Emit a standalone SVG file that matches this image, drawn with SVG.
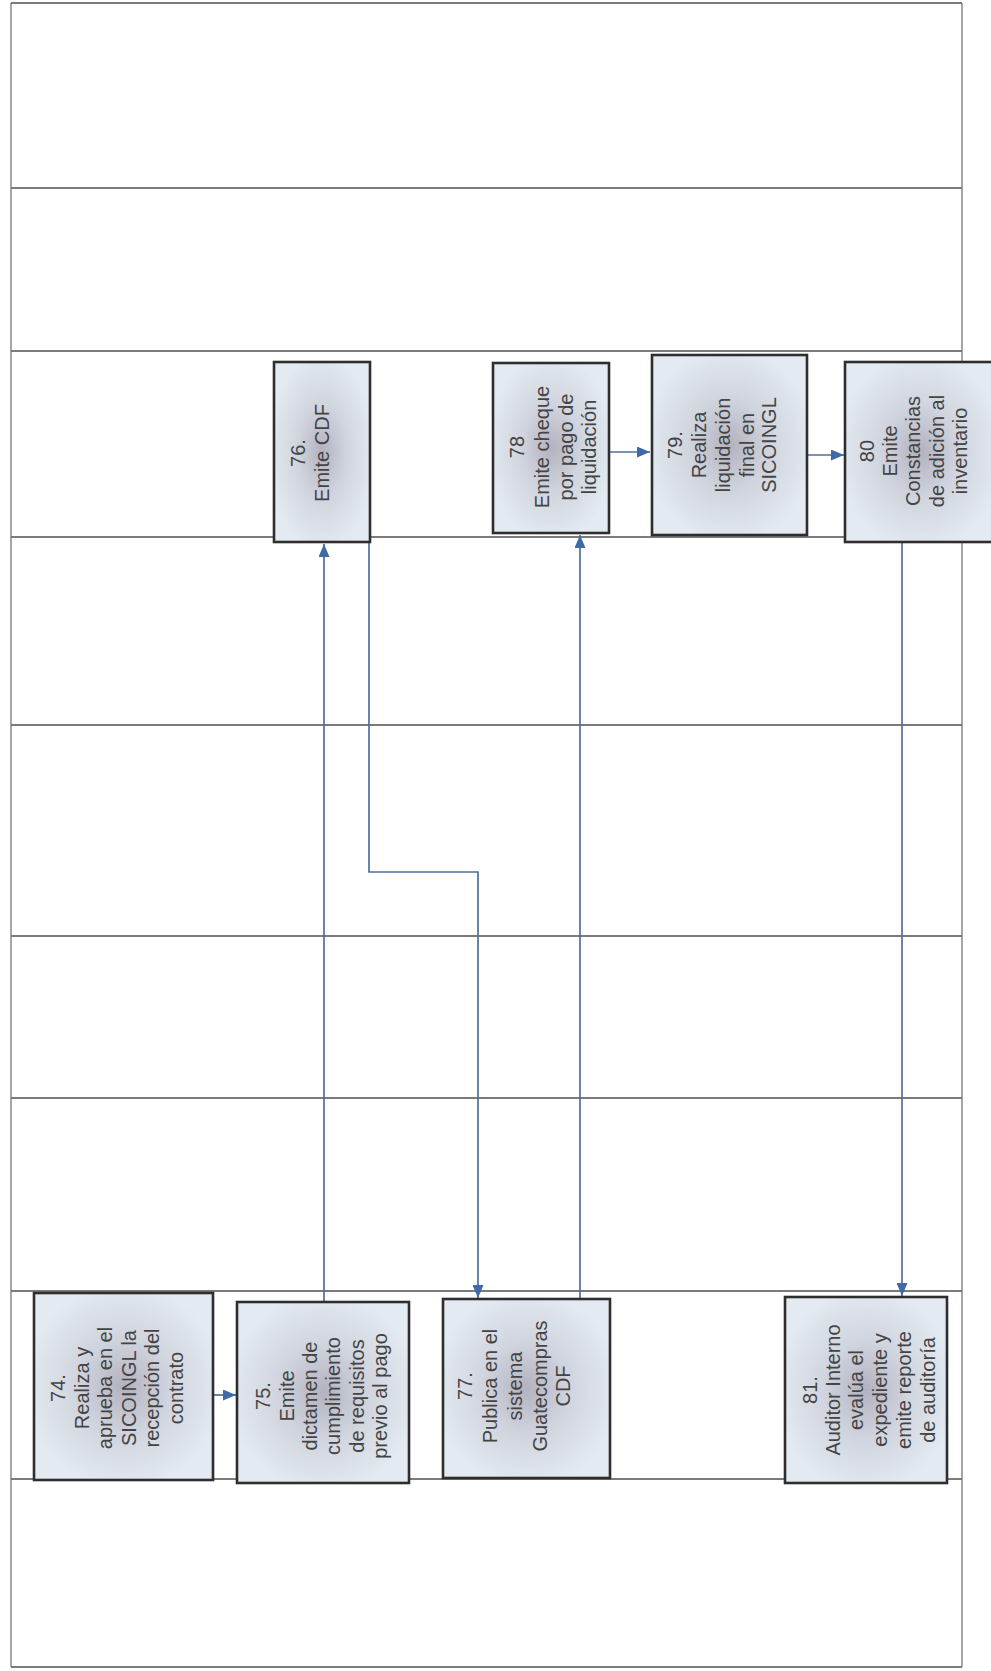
<svg xmlns="http://www.w3.org/2000/svg" width="991" height="1671" viewBox="0 0 991 1671">
<defs>
<radialGradient id="bg" cx="50%" cy="50%" r="55%">
<stop offset="0" stop-color="#b3b2bf"/>
<stop offset="0.45" stop-color="#cfd3dd"/>
<stop offset="1" stop-color="#e3eaf1"/>
</radialGradient>
<marker id="ah" viewBox="0 0 13 11" refX="13" refY="5.5" markerWidth="13" markerHeight="11" orient="auto" markerUnits="userSpaceOnUse">
<path d="M0,0 L13,5.5 L0,11 z" fill="#3f6aa8"/>
</marker>
<style>
.lane{stroke:#4f4f4f;stroke-width:1.7;fill:none}
.frame{stroke:#777;stroke-width:1.3;fill:none}
.box{fill:url(#bg);stroke:#2e2e2e;stroke-width:2.6}
.lbl{font-family:"Liberation Sans",Arial,sans-serif;font-size:20px;fill:#444;text-anchor:middle}
.con{stroke:#4f6f9e;stroke-width:1.7;fill:none;marker-end:url(#ah)}
</style>
</defs>
<rect width="991" height="1671" fill="#fff"/>
<g id="lanes">
<line class="lane" x1="11" y1="3" x2="962" y2="3"/>
<line class="lane" x1="11" y1="188" x2="962" y2="188"/>
<line class="lane" x1="11" y1="351" x2="962" y2="351"/>
<line class="lane" x1="11" y1="537" x2="962" y2="537"/>
<line class="lane" x1="11" y1="725" x2="962" y2="725"/>
<line class="lane" x1="11" y1="936" x2="962" y2="936"/>
<line class="lane" x1="11" y1="1098" x2="962" y2="1098"/>
<line class="lane" x1="11" y1="1291" x2="962" y2="1291"/>
<line class="lane" x1="11" y1="1479" x2="962" y2="1479"/>
<line class="lane" x1="11" y1="1667" x2="962" y2="1667"/>
<line class="frame" x1="11" y1="3" x2="11" y2="1667"/>
<line class="frame" x1="962" y1="3" x2="962" y2="1667"/>
</g>
<g id="connectors">
<path class="con" d="M213,1395 H236"/>
<path class="con" d="M324,1302 V544"/>
<path class="con" d="M369,542 V872 H478 V1298"/>
<path class="con" d="M580,1299 V535"/>
<path class="con" d="M609,452 H650"/>
<path class="con" d="M807,455 H844"/>
<path class="con" d="M902,542 V1296"/>
</g>
<g id="n74">
<rect class="box" x="34" y="1293" width="179" height="187"/>
<text class="lbl" transform="rotate(-90)"><tspan x="-1388" y="64.5">74.</tspan><tspan x="-1388" y="88.5">Realiza y</tspan><tspan x="-1388" y="111.5">aprueba en el</tspan><tspan x="-1388" y="135.5">SICOINGL la</tspan><tspan x="-1388" y="158.5">recepción del</tspan><tspan x="-1388" y="182.5">contrato</tspan></text>
</g>
<g id="n75">
<rect class="box" x="237" y="1302" width="172" height="181"/>
<text class="lbl" transform="rotate(-90)"><tspan x="-1396" y="269.5">75.</tspan><tspan x="-1396" y="293.5">Emite</tspan><tspan x="-1396" y="316.5">dictamen de</tspan><tspan x="-1396" y="339.5">cumplimiento</tspan><tspan x="-1396" y="363.5">de requisitos</tspan><tspan x="-1396" y="386.5">previo al pago</tspan></text>
</g>
<g id="n77">
<rect class="box" x="443" y="1299" width="167" height="179"/>
<text class="lbl" transform="rotate(-90)"><tspan x="-1386" y="471.5">77.</tspan><tspan x="-1386" y="496.5">Publica en el</tspan><tspan x="-1386" y="521.5">sistema</tspan><tspan x="-1386" y="546.5">Guatecompras</tspan><tspan x="-1386" y="569.5">CDF</tspan></text>
</g>
<g id="n81">
<rect class="box" x="785" y="1297" width="162" height="186"/>
<text class="lbl" transform="rotate(-90)"><tspan x="-1390" y="816.5">81.</tspan><tspan x="-1390" y="839.5">Auditor Interno</tspan><tspan x="-1390" y="862.5">evalúa el</tspan><tspan x="-1390" y="886.5">expediente y</tspan><tspan x="-1390" y="910.5">emite reporte</tspan><tspan x="-1390" y="934.5">de auditoría</tspan></text>
</g>
<g id="n76">
<rect class="box" x="274" y="362" width="96" height="180"/>
<text class="lbl" transform="rotate(-90)"><tspan x="-453" y="304.5">76.</tspan><tspan x="-453" y="328.5">Emite CDF</tspan></text>
</g>
<g id="n78">
<rect class="box" x="493" y="363" width="116" height="170"/>
<text class="lbl" transform="rotate(-90)"><tspan x="-447" y="523.5">78</tspan><tspan x="-447" y="548.5">Emite cheque</tspan><tspan x="-447" y="572.5">por pago de</tspan><tspan x="-447" y="595.5">liquidación</tspan></text>
</g>
<g id="n79">
<rect class="box" x="652" y="355" width="155" height="180"/>
<text class="lbl" transform="rotate(-90)"><tspan x="-445" y="681.5">79.</tspan><tspan x="-445" y="705.5">Realiza</tspan><tspan x="-445" y="729.5">liquidación</tspan><tspan x="-445" y="753.5">final en</tspan><tspan x="-445" y="775.5">SICOINGL</tspan></text>
</g>
<g id="n80">
<rect class="box" x="845" y="362" width="150" height="180"/>
<text class="lbl" transform="rotate(-90)"><tspan x="-451" y="873.5">80</tspan><tspan x="-451" y="896.5">Emite</tspan><tspan x="-451" y="919.5">Constancias</tspan><tspan x="-451" y="943.5">de adición al</tspan><tspan x="-451" y="966.5">inventario</tspan></text>
</g>
</svg>
